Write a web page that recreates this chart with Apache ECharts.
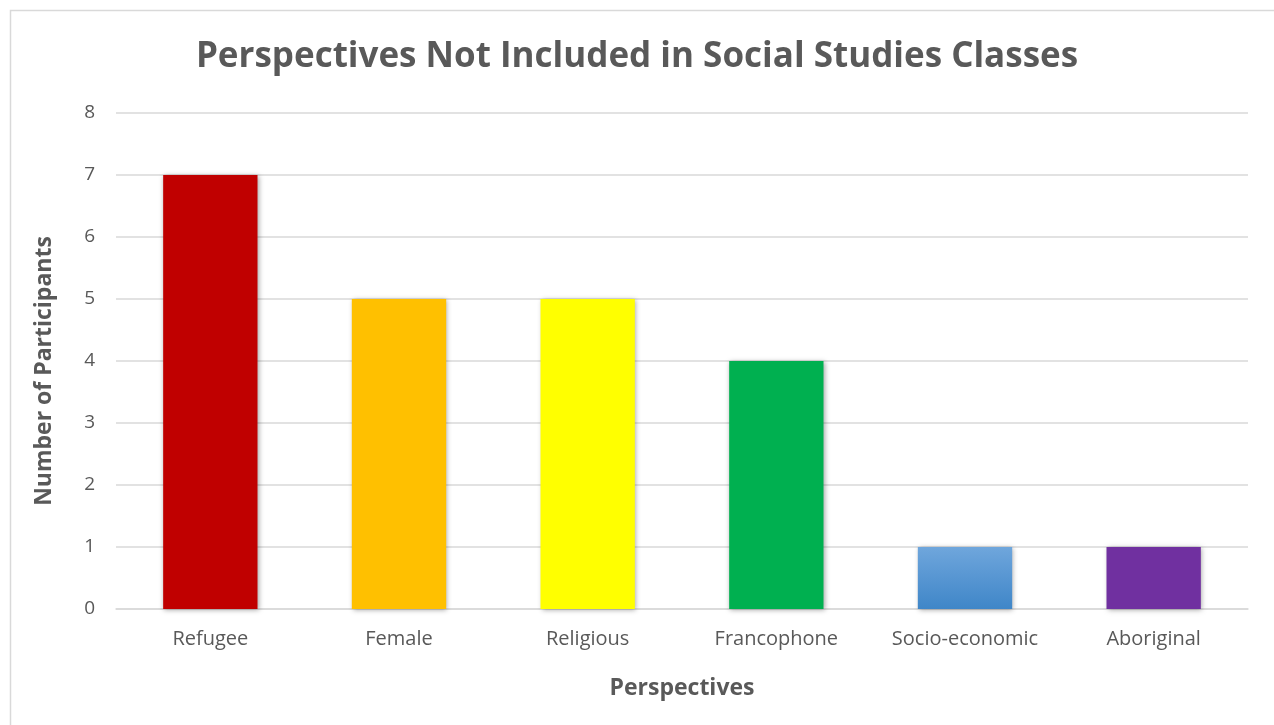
<!DOCTYPE html>
<html>
<head>
<meta charset="utf-8">
<script src="https://cdn.jsdelivr.net/npm/echarts@6/dist/echarts.min.js"></script>
<style>
html,body{margin:0;padding:0;background:#fff;}
#chart{width:1274px;height:725px;}
</style>
</head>
<body>
<div id="chart"></div>
<script>
const categories = ["Refugee", "Female", "Religious", "Francophone", "Socio-economic", "Aboriginal"];
const participants = [7, 5, 5, 4, 1, 1];
const barColors = ["#C00000", "#FFC000", "#FFFF00", "#00B050", "gradientBlue", "#7030A0"];
const yTicks = { min: 0, max: 8, interval: 1 };

const chart = echarts.init(document.getElementById('chart'));
const font = "'Open Sans', Lato, sans-serif";

function colorFor(c) {
  if (c === "gradientBlue") {
    return new echarts.graphic.LinearGradient(0, 0, 0, 1, [
      { offset: 0, color: '#6FA6DC' },
      { offset: 1, color: '#3F86C8' }
    ]);
  }
  return c;
}

const option = {
  animation: false,
  backgroundColor: '#ffffff',
  graphic: [{
    type: 'rect',
    left: 8, top: 8,
    shape: { width: 1300, height: 760 },
    style: { fill: 'none', stroke: '#d9d9d9', lineWidth: 1.5 },
    silent: true, z: -1
  }],
  title: {
    text: 'Perspectives Not Included in Social Studies Classes',
    left: 'center',
    top: 35,
    textStyle: { fontFamily: font, fontWeight: 'bold', fontSize: 35, color: '#595959' }
  },
  grid: { left: 116, right: 26, top: 113, bottom: 116, containLabel: false },
  xAxis: {
    type: 'category',
    data: categories,
    name: 'Perspectives',
    nameLocation: 'middle',
    nameGap: 68,
    nameTextStyle: { fontFamily: font, fontWeight: 'bold', fontSize: 23, color: '#595959' },
    axisLine: { show: true, lineStyle: { color: '#d9d9d9', width: 1.5 } },
    axisTick: { show: false },
    axisLabel: { interval: 0, fontFamily: font, fontSize: 20, color: '#595959', margin: 20 }
  },
  yAxis: {
    type: 'value',
    min: yTicks.min, max: yTicks.max, interval: yTicks.interval,
    name: 'Number of Participants',
    nameLocation: 'middle',
    nameGap: 60,
    nameTextStyle: { fontFamily: font, fontWeight: 'bold', fontSize: 23, color: '#595959', padding: [0, 20, 0, 0] },
    axisLine: { show: false },
    axisTick: { show: false },
    axisLabel: { fontFamily: font, fontSize: 19, color: '#595959', margin: 21 },
    splitLine: { lineStyle: { color: '#d9d9d9', width: 1.5 } }
  },
  series: [{
    type: 'bar',
    barWidth: '50%',
    data: participants.map((v, i) => ({
      value: v,
      itemStyle: {
        color: colorFor(barColors[i]),
        shadowColor: 'rgba(0,0,0,0.35)',
        shadowBlur: 5,
        shadowOffsetX: 1,
        shadowOffsetY: 1
      }
    }))
  }]
};
chart.setOption(option);
</script>
</body>
</html>
